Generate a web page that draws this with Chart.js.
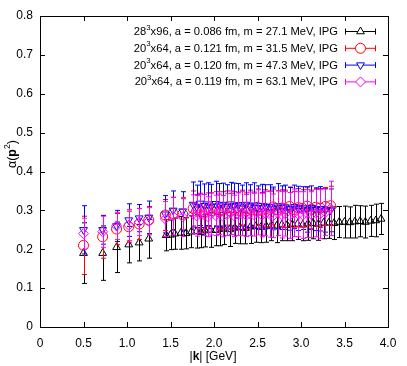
<!DOCTYPE html>
<html>
<head>
<meta charset="utf-8">
<script src="https://cdn.jsdelivr.net/npm/chart.js@4"></script>
<style>
  html, body { margin: 0; padding: 0; background: #fff; }
  #wrap { width: 407px; height: 366px; }
</style>
</head>
<body>
<div id="wrap"><canvas id="chart"></canvas></div>
<script>
// momenta |k| in GeV
const kLarge = [0.5, 0.72, 0.88, 1.02, 1.14, 1.25, 1.45, 1.5, 1.55, 1.62, 1.68, 1.74, 1.8, 1.85, 1.9, 1.96, 2.02, 2.07, 2.12, 2.18, 2.24, 2.3, 2.36, 2.42, 2.48, 2.54, 2.6, 2.66, 2.72, 2.78, 2.84, 2.9, 2.96, 3.02, 3.08, 3.14, 3.2, 3.26, 3.32, 3.38, 3.44, 3.5, 3.56, 3.62, 3.68, 3.74, 3.8, 3.86, 3.92];
const kSmall = [0.5, 0.72, 0.88, 1.02, 1.14, 1.25, 1.44, 1.53, 1.64, 1.76, 1.8, 1.84, 1.89, 1.93, 1.97, 2.02, 2.06, 2.1, 2.15, 2.19, 2.23, 2.28, 2.32, 2.37, 2.41, 2.46, 2.5, 2.55, 2.59, 2.64, 2.68, 2.73, 2.78, 2.82, 2.87, 2.92, 2.97, 3.02, 3.07, 3.12, 3.17, 3.22, 3.28, 3.34];

// 28^3x96, a = 0.086 fm, m = 27.1 MeV
const alphaBlack = [0.19, 0.19, 0.205, 0.212, 0.217, 0.227, 0.236, 0.237, 0.24, 0.242, 0.241, 0.245, 0.246, 0.244, 0.248, 0.25, 0.249, 0.252, 0.253, 0.251, 0.255, 0.256, 0.254, 0.258, 0.259, 0.257, 0.26, 0.262, 0.26, 0.263, 0.262, 0.264, 0.265, 0.263, 0.266, 0.267, 0.265, 0.268, 0.268, 0.267, 0.27, 0.27, 0.269, 0.271, 0.272, 0.27, 0.273, 0.274, 0.278];
const errBlack = [0.078, 0.07, 0.065, 0.047, 0.047, 0.05, 0.04, 0.038, 0.04, 0.042, 0.04, 0.041, 0.043, 0.04, 0.042, 0.045, 0.04, 0.043, 0.041, 0.044, 0.04, 0.042, 0.04, 0.043, 0.041, 0.04, 0.042, 0.04, 0.043, 0.041, 0.04, 0.042, 0.04, 0.041, 0.043, 0.04, 0.042, 0.041, 0.04, 0.042, 0.04, 0.041, 0.04, 0.042, 0.04, 0.041, 0.04, 0.042, 0.04];

// 20^3x64, a = 0.121 fm, m = 31.5 MeV
const alphaRed = [0.21, 0.232, 0.252, 0.258, 0.265, 0.275, 0.288, 0.292, 0.29, 0.305, 0.298, 0.3, 0.296, 0.302, 0.299, 0.304, 0.297, 0.301, 0.306, 0.298, 0.303, 0.3, 0.307, 0.299, 0.304, 0.302, 0.308, 0.3, 0.305, 0.303, 0.309, 0.301, 0.306, 0.304, 0.31, 0.302, 0.307, 0.305, 0.311, 0.303, 0.308, 0.306, 0.31, 0.312];
const errRed = [0.075, 0.055, 0.04, 0.04, 0.04, 0.035, 0.04, 0.042, 0.04, 0.045, 0.043, 0.044, 0.045, 0.043, 0.046, 0.044, 0.045, 0.047, 0.044, 0.046, 0.045, 0.047, 0.045, 0.046, 0.048, 0.045, 0.047, 0.046, 0.048, 0.047, 0.046, 0.049, 0.047, 0.048, 0.05, 0.047, 0.049, 0.048, 0.05, 0.049, 0.048, 0.05, 0.049, 0.05];

// 20^3x64, a = 0.120 fm, m = 47.3 MeV
const alphaBlue = [0.25, 0.25, 0.26, 0.275, 0.28, 0.282, 0.29, 0.3, 0.298, 0.315, 0.31, 0.318, 0.312, 0.316, 0.31, 0.317, 0.313, 0.315, 0.309, 0.316, 0.312, 0.314, 0.308, 0.315, 0.311, 0.313, 0.307, 0.312, 0.309, 0.31, 0.305, 0.311, 0.307, 0.308, 0.304, 0.309, 0.305, 0.306, 0.302, 0.307, 0.303, 0.304, 0.3, 0.3];
const errBlue = [0.062, 0.037, 0.04, 0.042, 0.035, 0.042, 0.048, 0.05, 0.05, 0.058, 0.055, 0.057, 0.056, 0.055, 0.057, 0.058, 0.056, 0.055, 0.057, 0.056, 0.058, 0.055, 0.057, 0.056, 0.055, 0.058, 0.056, 0.055, 0.057, 0.056, 0.055, 0.058, 0.056, 0.057, 0.055, 0.056, 0.057, 0.055, 0.058, 0.056, 0.055, 0.057, 0.056, 0.055];

// 20^3x64, a = 0.119 fm, m = 63.1 MeV
const alphaMagenta = [0.24, 0.245, 0.26, 0.262, 0.27, 0.272, 0.278, 0.285, 0.283, 0.29, 0.286, 0.292, 0.288, 0.284, 0.291, 0.287, 0.293, 0.285, 0.289, 0.294, 0.286, 0.29, 0.292, 0.287, 0.291, 0.289, 0.295, 0.288, 0.292, 0.29, 0.286, 0.293, 0.289, 0.291, 0.287, 0.294, 0.29, 0.288, 0.292, 0.289, 0.293, 0.291, 0.295, 0.305];
const errMagenta = [0.04, 0.04, 0.035, 0.04, 0.035, 0.035, 0.045, 0.048, 0.05, 0.05, 0.052, 0.05, 0.053, 0.051, 0.054, 0.052, 0.055, 0.053, 0.054, 0.056, 0.053, 0.055, 0.057, 0.054, 0.056, 0.055, 0.058, 0.056, 0.057, 0.059, 0.056, 0.058, 0.06, 0.057, 0.059, 0.061, 0.058, 0.06, 0.062, 0.059, 0.061, 0.063, 0.06, 0.07];

const xTicks = [0, 0.5, 1, 1.5, 2, 2.5, 3, 3.5, 4];
const yTicks = [0, 0.1, 0.2, 0.3, 0.4, 0.5, 0.6, 0.7, 0.8];

const FONT = "'Liberation Sans', Arial, sans-serif";

function points(ks, vals, errs) {
    return ks.map((k, i) => ({ x: k, y: vals[i], err: errs[i] }));
}

// label parts: [text, 0 normal / 1 superscript / 2 bold]
const series = [
    { parts: [["28", 0], ["3", 1], ["x96, a = 0.086 fm, m = 27.1 MeV, IPG", 0]], color: "#000000", style: "triangle", rot: 0, r: 4.5, data: points(kLarge, alphaBlack, errBlack), order: 3 },
    { parts: [["20", 0], ["3", 1], ["x64, a = 0.121 fm, m = 31.5 MeV, IPG", 0]], color: "#ff0000", style: "circle", rot: 0, r: 5, data: points(kSmall, alphaRed, errRed), order: 2 },
    { parts: [["20", 0], ["3", 1], ["x64, a = 0.120 fm, m = 47.3 MeV, IPG", 0]], color: "#0000ff", style: "triangle", rot: 180, r: 4.5, data: points(kSmall, alphaBlue, errBlue), order: 1 },
    { parts: [["20", 0], ["3", 1], ["x64, a = 0.119 fm, m = 63.1 MeV, IPG", 0]], color: "#ff00ff", style: "rectRot", rot: 0, r: 5, data: points(kSmall, alphaMagenta, errMagenta), order: 0 }
];

const datasets = series.map(s => ({
    data: s.data,
    borderColor: s.color,
    backgroundColor: "rgba(0,0,0,0)",
    pointStyle: s.style,
    pointRotation: s.rot,
    pointRadius: s.r,
    borderWidth: 1,
    showLine: false,
    order: s.order
}));

// error bars under each dataset's own symbols
const errorBars = {
    id: "errorBars",
    beforeDatasetDraw(chart, args) {
        const ctx = chart.ctx;
        const yScale = chart.scales.y;
        const ds = chart.data.datasets[args.index];
        ctx.save();
        ctx.strokeStyle = ds.borderColor;
        ctx.lineWidth = 1;
        args.meta.data.forEach((pt, i) => {
            const d = ds.data[i];
            const x = Math.round(pt.x) + 0.5;
            const y1 = yScale.getPixelForValue(d.y - d.err);
            const y2 = yScale.getPixelForValue(d.y + d.err);
            ctx.beginPath();
            ctx.moveTo(x, y1); ctx.lineTo(x, y2);
            ctx.moveTo(x - 2.5, y1); ctx.lineTo(x + 2.5, y1);
            ctx.moveTo(x - 2.5, y2); ctx.lineTo(x + 2.5, y2);
            ctx.stroke();
        });
        ctx.restore();
    }
};

function drawParts(ctx, parts, x, y, size, align) {
    const fontFor = p => (p[1] === 2 ? "bold " : "") + (p[1] === 1 ? size * 0.7 : size) + "px " + FONT;
    const widths = parts.map(p => {
        ctx.font = fontFor(p);
        return ctx.measureText(p[0]).width;
    });
    const total = widths.reduce((a, b) => a + b, 0);
    let cx = align === "right" ? x - total : (align === "center" ? x - total / 2 : x);
    parts.forEach((p, i) => {
        ctx.font = fontFor(p);
        ctx.fillText(p[0], cx, p[1] === 1 ? y - size * 0.4 : y);
        cx += widths[i];
    });
}

const frame = {
    id: "frame",
    beforeDatasetsDraw(chart) {
        const { ctx, chartArea: a, scales } = chart;
        ctx.save();
        ctx.strokeStyle = "#000";
        ctx.lineWidth = 1;
        ctx.strokeRect(Math.round(a.left) + 0.5, Math.round(a.top) + 0.5, Math.round(a.right - a.left), Math.round(a.bottom - a.top));
        ctx.beginPath();
        xTicks.forEach(v => {
            const x = Math.round(scales.x.getPixelForValue(v)) + 0.5;
            ctx.moveTo(x, a.bottom); ctx.lineTo(x, a.bottom - 5);
            ctx.moveTo(x, a.top); ctx.lineTo(x, a.top + 5);
        });
        yTicks.forEach(v => {
            const y = Math.round(scales.y.getPixelForValue(v)) + 0.5;
            ctx.moveTo(a.left, y); ctx.lineTo(a.left + 5, y);
            ctx.moveTo(a.right, y); ctx.lineTo(a.right - 5, y);
        });
        ctx.stroke();
        ctx.restore();
    },
    afterDraw(chart) {
        const ctx = chart.ctx;
        ctx.save();
        ctx.fillStyle = "#000";
        ctx.textBaseline = "middle";
        // axis titles
        drawParts(ctx, [["|", 0], ["k", 2], ["| [GeV]", 0]], 213, 357, 12, "center");
        ctx.save();
        ctx.translate(13, 154);
        ctx.rotate(-Math.PI / 2);
        drawParts(ctx, [["\u03b1(", 0], ["p", 2], ["2", 1], [")", 0]], 0, 0, 12.5, "center");
        ctx.restore();
        // key
        series.forEach((s, i) => {
            const y = 31 + i * 16.8;
            ctx.fillStyle = "#000";
            drawParts(ctx, s.parts, 338, y + 1, 11.2, "right");
            ctx.strokeStyle = s.color;
            ctx.lineWidth = 1;
            ctx.beginPath();
            ctx.moveTo(345, y + 0.5); ctx.lineTo(376, y + 0.5);
            ctx.moveTo(345.5, y - 2.5); ctx.lineTo(345.5, y + 3.5);
            ctx.moveTo(375.5, y - 2.5); ctx.lineTo(375.5, y + 3.5);
            ctx.stroke();
            ctx.fillStyle = "#fff";
            Chart.helpers.drawPoint(ctx, { pointStyle: s.style, rotation: s.rot, radius: s.r, borderWidth: 1 }, 360.5, y + 0.5);
        });
        ctx.restore();
    }
};

new Chart(document.getElementById("chart"), {
    type: "scatter",
    data: { datasets: datasets },
    options: {
        responsive: true,
        maintainAspectRatio: false,
        animation: false,
        layout: { padding: { top: 16, right: 19, left: 0, bottom: 0 } },
        plugins: {
            legend: { display: false },
            tooltip: { enabled: false }
        },
        scales: {
            x: {
                type: "linear",
                min: 0, max: 4,
                afterBuildTicks: s => { s.ticks = xTicks.map(v => ({ value: v })); },
                afterFit: s => { s.height = 39; },
                grid: { display: false, drawTicks: false },
                border: { display: false },
                ticks: { color: "#000", padding: 9, font: { family: FONT, size: 12 } }
            },
            y: {
                min: 0, max: 0.8,
                afterBuildTicks: s => { s.ticks = yTicks.map(v => ({ value: v })); },
                afterFit: s => { s.width = 40; },
                grid: { display: false, drawTicks: false },
                border: { display: false },
                ticks: { color: "#000", padding: 7, font: { family: FONT, size: 12 } }
            }
        }
    },
    plugins: [errorBars, frame]
});
</script>
</body>
</html>
